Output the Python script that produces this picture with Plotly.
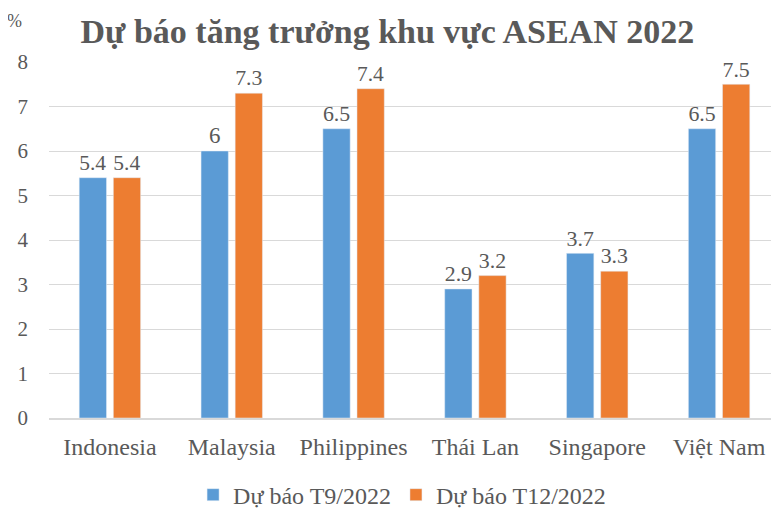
import plotly.graph_objects as go

categories = ["Indonesia", "Malaysia", "Philippines", "Thái Lan", "Singapore", "Việt Nam"]
t9 = [5.4, 6, 6.5, 2.9, 3.7, 6.5]
t12 = [5.4, 7.3, 7.4, 3.2, 3.3, 7.5]
series_names = ["Dự báo T9/2022", "Dự báo T12/2022"]
colors = ["#5B9BD5", "#ED7D31"]
font_family = "Liberation Serif"
grey = "#595959"

fig = go.Figure()
for name, vals, c in zip(series_names, [t9, t12], colors):
    fig.add_trace(go.Bar(
        x=categories, y=vals, name=name, marker_color=c,
        text=[f"{v:g}" for v in vals], textposition="outside",
        textfont=dict(size=23, color=grey, family=font_family),
        cliponaxis=False,
    ))

fig.update_layout(
    width=779, height=510,
    paper_bgcolor="white", plot_bgcolor="white",
    margin=dict(l=41, r=7, t=54, b=100),
    barmode="group", bargap=0.44, bargroupgap=0.2,
    font=dict(family=font_family, color=grey, size=23),
    title=dict(text="<b>Dự báo tăng trưởng khu vực ASEAN 2022</b>",
               x=0.487, xanchor="center", y=0.978, yanchor="top", pad=dict(t=0),
               font=dict(size=34, color=grey, family=font_family)),
    showlegend=True,
    legend=dict(orientation="h", x=0.483, xanchor="center", yref="container",
                y=0.045, yanchor="middle",
                font=dict(size=24, color=grey, family=font_family), traceorder="normal",
                itemwidth=30),
)
fig.update_xaxes(showgrid=False, showline=True, linecolor="#d9d9d9", linewidth=1.5,
                 ticks="", tickfont=dict(size=24, color=grey, family=font_family),
                 automargin=False, ticklabelstandoff=6)
fig.update_yaxes(range=[0, 8], dtick=1, showgrid=True, gridcolor="#d9d9d9", gridwidth=1.3,
                 zeroline=False, showline=False, ticks="",
                 tickfont=dict(size=21, color=grey, family=font_family),
                 ticklabelstandoff=20, automargin=False)
fig.add_annotation(text="%", xref="paper", yref="paper", x=-0.047, y=1.115,
                   xanchor="center", yanchor="middle",
                   showarrow=False, font=dict(size=18, color=grey, family=font_family))
fig.write_html("out.html")
